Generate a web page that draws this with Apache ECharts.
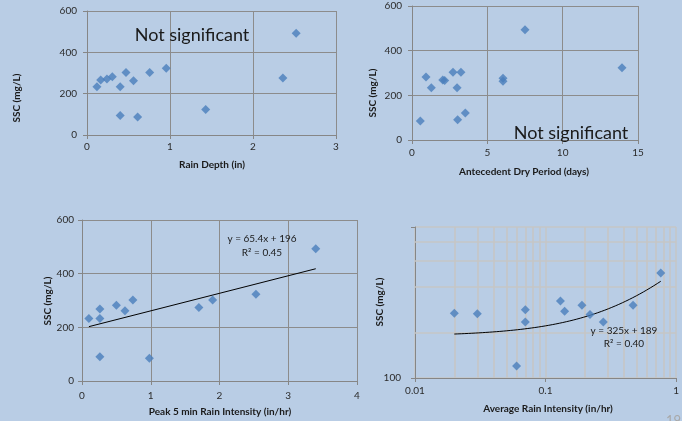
<!DOCTYPE html>
<html>
<head>
<meta charset="utf-8">
<script src="https://cdn.jsdelivr.net/npm/echarts@6/dist/echarts.min.js"></script>
<style>html,body{margin:0;padding:0;background:#b9cde5;}#c{width:682px;height:421px;}</style>
</head>
<body>
<div id="c"></div>
<script>
// Panel 1: Rain depth
const rainDepth = [0.12, 0.165, 0.24, 0.305, 0.40, 0.40, 0.47, 0.56, 0.61, 0.755, 0.955, 1.43, 2.36, 2.52];
const sscDepth  = [234, 266, 271, 282, 94, 234, 303, 263, 87, 302, 323, 123, 276, 492];
// Panel 2: Antecedent dry period
const dryPeriod = [0.55, 0.93, 1.28, 2.04, 2.17, 2.72, 2.99, 3.03, 3.25, 3.54, 6.04, 6.04, 7.5, 13.94];
const sscDry    = [85, 282, 234, 269, 266, 303, 234, 91, 303, 121, 276, 263, 494, 324];
// Panel 3: Peak 5 min rain intensity
const peakInt = [0.1, 0.26, 0.26, 0.26, 0.50, 0.625, 0.74, 0.98, 1.70, 1.90, 2.53, 3.40];
const sscPeak = [233, 268, 233, 90, 282, 262, 302, 85, 274, 302, 323, 493];
const peakFit = {slope: 65.4, intercept: 196, r2: '0.45'};
// Panel 4: Average rain intensity (log-log)
const avgInt = [0.020, 0.030, 0.060, 0.070, 0.070, 0.130, 0.140, 0.190, 0.219, 0.277, 0.468, 0.763];
const sscAvg = [268, 266, 120, 283, 235, 323, 277, 303, 263, 235, 303, 495];
const avgFit = {slope: 325, intercept: 189, r2: '0.40'};
// Log-axis minor gridline values
const logMinorX = [0.02,0.03,0.04,0.05,0.06,0.07,0.08,0.09,0.2,0.3,0.4,0.5,0.6,0.7,0.8,0.9];
const logMinorY = [200, 400, 600, 800];
const logRangeX = [0.01, 1];
const logRangeY = [100, 1000];

const FONT = 'Lato';
const AX = '#868686', GRID = '#8c8c8c', LGRID = '#c6c6c6', LBL = '#2b2b2b', MARK = '#4a7ebb';

function zip(a, b) { return a.map((v, i) => [v, b[i]]); }

function valAxis(grid, min, max, interval, margin, extra) {
  return Object.assign({
    gridIndex: grid, type: 'value', min: min, max: max, interval: interval,
    axisLine: {show: true, onZero: false, lineStyle: {color: AX, width: 1}},
    axisTick: {show: true, length: 4, inside: false, lineStyle: {color: AX}},
    axisLabel: {color: LBL, fontSize: 10, fontFamily: FONT, margin: margin},
    splitLine: {show: true, lineStyle: {color: GRID, width: 1}}
  }, extra || {});
}

const pMin = Math.min(...peakInt), pMax = Math.max(...peakInt);
const peakTrend = [[pMin, peakFit.slope * pMin + peakFit.intercept], [pMax, peakFit.slope * pMax + peakFit.intercept]];
const aMin = Math.min(...avgInt), aMax = Math.max(...avgInt);
const avgTrend = [];
for (let i = 0; i < 60; i++) {
  const x = aMin * Math.pow(aMax / aMin, i / 59);
  avgTrend.push([x, avgFit.slope * x + avgFit.intercept]);
}
const minorGrid = logMinorX.map(v => ({coords: [[v, logRangeY[0]], [v, logRangeY[1]]]}))
  .concat(logMinorY.map(v => ({coords: [[logRangeX[0], v], [logRangeX[1], v]]})));

function txt(text, x, y, size, weight, rot, color) {
  return {type: 'text', x: x, y: y, rotation: rot || 0, z: 100,
    style: {text: text, fontSize: size, fontFamily: FONT, fontWeight: weight || 'normal',
      fill: color || '#1a1a1a', align: 'center', verticalAlign: 'middle'}};
}

const option = {
  backgroundColor: '#b9cde5',
  animation: false,
  textStyle: {fontFamily: FONT},
  grid: [
    {left: 87, top: 11, width: 249, height: 124},
    {left: 412, top: 6, width: 226, height: 134},
    {left: 82, top: 220, width: 275, height: 161},
    {left: 415, top: 227, width: 269, height: 151}
  ],
  xAxis: [
    valAxis(0, 0, 3, 1, 7),
    valAxis(1, 0, 15, 5, 8),
    valAxis(2, 0, 4, 1, 10),
    {gridIndex: 3, type: 'log', logBase: 10, min: logRangeX[0], max: logRangeX[1],
      axisLine: {show: true, onZero: false, lineStyle: {color: AX}},
      axisTick: {show: true, length: 4, lineStyle: {color: AX}},
      axisLabel: {color: LBL, fontSize: 10, fontFamily: FONT, margin: 8,
        formatter: v => String(+(+v).toPrecision(3))},
      splitLine: {show: true, lineStyle: {color: LGRID, width: 1.5}},
      minorTick: {show: false}}
  ],
  yAxis: [
    valAxis(0, 0, 600, 200, 10),
    valAxis(1, 0, 600, 200, 10),
    valAxis(2, 0, 600, 200, 8),
    {gridIndex: 3, type: 'log', logBase: 10, min: logRangeY[0], max: logRangeY[1],
      axisLine: {show: true, onZero: false, lineStyle: {color: AX}},
      axisTick: {show: true, length: 4, lineStyle: {color: AX}},
      axisLabel: {color: LBL, fontSize: 10, fontFamily: FONT, margin: 14,
        formatter: v => (+v < 500 ? '100' : '')},
      splitLine: {show: true, lineStyle: {color: LGRID, width: 1.5}}}
  ],
  series: [
    {type: 'lines', coordinateSystem: 'cartesian2d', xAxisIndex: 3, yAxisIndex: 3, z: 1, silent: true,
      lineStyle: {color: LGRID, width: 1.6, opacity: 1, curveness: 0}, data: minorGrid},
    {type: 'scatter', xAxisIndex: 0, yAxisIndex: 0, data: zip(rainDepth, sscDepth), symbol: 'diamond', symbolSize: 9, itemStyle: {color: MARK}, z: 5},
    {type: 'scatter', xAxisIndex: 1, yAxisIndex: 1, data: zip(dryPeriod, sscDry), symbol: 'diamond', symbolSize: 9, itemStyle: {color: MARK}, z: 5},
    {type: 'scatter', xAxisIndex: 2, yAxisIndex: 2, data: zip(peakInt, sscPeak), symbol: 'diamond', symbolSize: 9, itemStyle: {color: MARK}, z: 5},
    {type: 'line', xAxisIndex: 2, yAxisIndex: 2, data: peakTrend, showSymbol: false, lineStyle: {color: '#000', width: 1}, z: 4},
    {type: 'scatter', xAxisIndex: 3, yAxisIndex: 3, data: zip(avgInt, sscAvg), symbol: 'diamond', symbolSize: 9, itemStyle: {color: MARK}, z: 5},
    {type: 'line', xAxisIndex: 3, yAxisIndex: 3, data: avgTrend, showSymbol: false, lineStyle: {color: '#000', width: 1, type: 'solid'}, z: 4}
  ],
  graphic: [
    txt('SSC (mg/L)', 17, 98, 10, 'bold', Math.PI / 2),
    txt('SSC (mg/L)', 373, 93, 10, 'bold', Math.PI / 2),
    txt('SSC (mg/L)', 48, 301, 10, 'bold', Math.PI / 2),
    txt('SSC (mg/L)', 380, 302, 10, 'bold', Math.PI / 2),
    txt('Rain Depth (in)', 212, 165, 10, 'bold'),
    txt('Antecedent Dry Period (days)', 524, 172, 10, 'bold'),
    txt('Peak 5 min Rain Intensity (in/hr)', 220, 412, 10, 'bold'),
    txt('Average Rain Intensity (in/hr)', 548, 409, 10, 'bold'),
    txt('Not significant', 192, 35, 18),
    txt('Not significant', 571, 133, 18),
    txt('y = ' + peakFit.slope + 'x + ' + peakFit.intercept, 262, 239, 10),
    txt('R² = ' + peakFit.r2, 262, 253, 10),
    txt('y = ' + avgFit.slope + 'x + ' + avgFit.intercept, 624, 331, 10),
    txt('R² = ' + avgFit.r2, 624, 344, 10),
    {type: 'text', x: 666, y: 414, z: 100, style: {text: '19', fontSize: 13, fontFamily: FONT, fill: '#a8a8a8'}}
  ]
};
echarts.init(document.getElementById('c'), null, {renderer: 'canvas'}).setOption(option);
</script>
</body>
</html>
